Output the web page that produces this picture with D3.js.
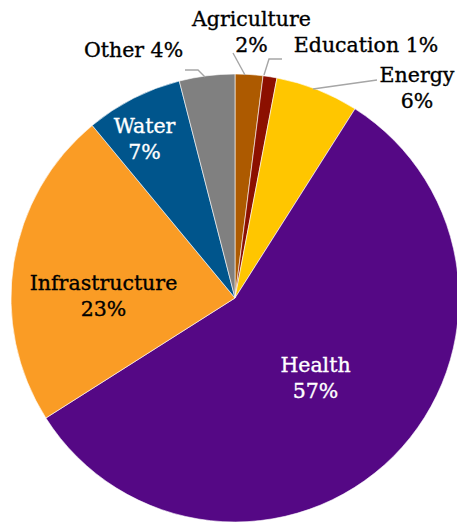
<!DOCTYPE html>
<html>
<head>
<meta charset="utf-8">
<script src="https://cdn.jsdelivr.net/npm/d3@7"></script>
<style>
  html, body { margin: 0; padding: 0; background: #fff; }
</style>
</head>
<body>
<svg id="chart" width="457" height="524"></svg>
<script>
// Share of spending by sector (percent)
const sectors = ["Agriculture", "Education", "Energy", "Health", "Infrastructure", "Water", "Other"];
const shares  = [2, 1, 6, 57, 23, 7, 4];
const colors  = ["#AD5A00", "#8C1000", "#FFC600", "#550885", "#FA9C25", "#00558C", "#808080"];
const labelColors = ["#000", "#000", "#000", "#fff", "#000", "#fff", "#000"];

const svg = d3.select("#chart");
const cx = 235, cy = 298, r = 224;
const g = svg.append("g").attr("transform", `translate(${cx},${cy})`);

const pie = d3.pie().sort(null).value(d => d.value);
const data = pie(sectors.map((s, i) => ({ name: s, value: shares[i], color: colors[i], tc: labelColors[i] })));
const arc = d3.arc().innerRadius(0).outerRadius(r);

g.selectAll("path.slice")
  .data(data)
  .join("path")
  .attr("class", "slice")
  .attr("d", arc)
  .attr("fill", d => d.data.color)
  .attr("stroke", "#fff")
  .attr("stroke-width", 0.6);

// Label placement: inside for the large slices, outside with leader lines for the small ones
const labelPos = {
  Agriculture:   { x: 16.5,  y: -272.5, lines: ["Agriculture", "2%"], leader: [[-2, -245], [10, -223]] },
  Education:     { x: 131,   y: -246,   lines: ["Education 1%"], leader: [[47, -239], [34, -239], [29, -223]] },
  Energy:        { x: 182,   y: -216,   lines: ["Energy", "6%"], leader: [[142, -218], [78, -209]] },
  Health:        { x: 80.5,  y: 74,     lines: ["Health", "57%"] },
  Infrastructure:{ x: -131.5,y: -8,     lines: ["Infrastructure", "23%"] },
  Water:         { x: -90.5, y: -165,   lines: ["Water", "7%"] },
  Other:         { x: -101.5,y: -241,   lines: ["Other 4%"], leader: [[-50, -228], [-37, -228], [-30, -221]] }
};

const line = d3.line();
data.forEach(d => {
  const p = labelPos[d.data.name];
  if (p.leader) {
    g.append("path")
      .attr("d", line(p.leader))
      .attr("fill", "none")
      .attr("stroke", "#A6A6A6")
      .attr("stroke-width", 1.4);
  }
  const t = g.append("text")
    .attr("text-anchor", "middle")
    .style("font-family", "'DejaVu Serif', serif")
    .attr("font-size", 20.5)
    .attr("fill", d.data.tc)
    .attr("stroke", d.data.tc)
    .attr("stroke-width", 0.35)
    .attr("x", p.x)
    .attr("y", p.y);
  p.lines.forEach((l, i) => {
    t.append("tspan").attr("x", p.x).attr("dy", i === 0 ? 0 : 26).text(l);
  });
});
</script>
</body>
</html>
